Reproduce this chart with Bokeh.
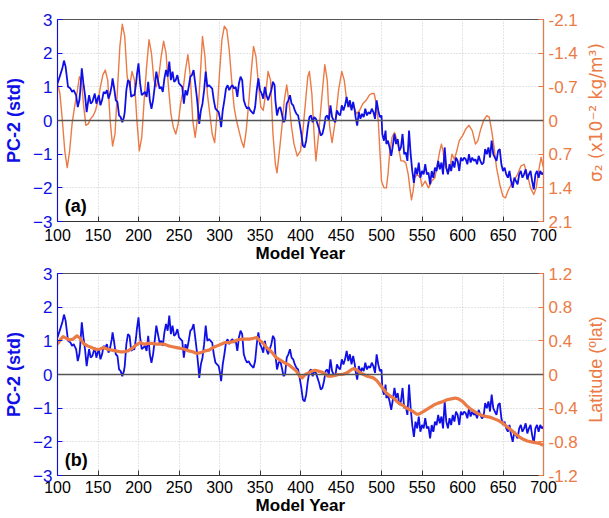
import math
from bokeh.plotting import figure
from bokeh.models import Range1d, LinearAxis, FixedTicker, Span, Label
from bokeh.layouts import column, row
from bokeh.core.properties import value
from bokeh.embed import file_html
from bokeh.resources import INLINE

# ---------------- data ----------------
pc2_years = [100,102,104,106,108,110,111,113,116,118,120,122,123,125,127,128,130,132,134,136,138,139,141,143,146,148,149,151,153,155,157,159,161,163,165,167,168,170,172,174,176,178,180,182,183,185,187,189,191,193,195,197,198,200,202,204,206,208,210,212,214,216,218,220,222,224,226,228,230,232,234,236,238,240,242,244,246,248,250,252,254,256,258,260,262,264,266,268,270,272,274,275,277,279,281,283,285,287,289,291,293,295,297,299,301,302,304,306,308,310,312,314,316,318,320,322,324,326,328,330,332,334,336,338,340,342,344,346,348,350,352,354,356,358,360,362,364,366,368,369,371,373,375,377,379,381,383,385,387,389,391,393,395,397,399,401,403,405,407,409,411,413,415,417,419,421,423,425,427,429,431,433,435,437,439,441,443,445,447,449,451,453,455,457,459,461,463,465,467,468,470,472,474,476,478,480,482,484,486,488,490,492,494,496,498,500,501,503,505,506,508,510,512,514,516,518,520,522,524,526,528,530,532,534,536,538,540,542,544,546,548,550,552,554,556,558,560,562,564,566,568,570,572,574,576,578,580,582,584,586,588,590,592,594,596,598,600,602,604,606,608,610,612,614,616,618,620,622,624,626,628,630,632,634,636,638,640,642,644,646,648,650,652,654,656,658,660,662,664,666,668,670,672,674,676,678,680,682,684,686,688,690,692,694,696,698,700]
pc2 = [1.1,1.25,1.4,1.55,1.78,1.6,1.4,1.0,0.95,0.85,0.9,0.8,0.75,0.4,0.6,0.85,1.55,1.1,0.75,0.25,0.6,0.75,0.5,0.55,0.8,0.5,0.6,0.75,0.45,0.6,0.85,0.8,0.9,0.65,0.8,1.05,1.25,0.95,0.6,0.55,0.15,0.1,-0.05,0.1,0.25,0.9,1.2,1.15,0.7,0.75,0.75,1.1,1.35,1.7,1.1,0.75,0.8,0.85,0.7,1.15,0.6,0.35,0.6,1.0,1.45,1.2,0.95,1.0,0.85,1.25,1.5,1.3,1.75,1.2,1.45,1.15,1.2,1.35,1.1,1.05,1.0,0.5,0.9,0.75,1.0,1.3,1.35,1.5,1.1,0.7,0.2,-0.1,0.3,0.5,0.9,1.45,1.0,1.05,1.0,0.95,0.6,0.35,0.3,0.25,0.0,-0.2,0.3,0.6,0.95,1.05,0.9,1.0,1.05,0.95,1.0,0.7,1.1,1.3,1.2,0.6,0.45,0.35,0.4,0.3,0.25,0.2,0.4,0.9,1.25,0.9,0.8,0.65,1.0,0.75,0.6,0.75,0.9,1.15,1.05,0.6,0.15,0.35,0.4,0.2,-0.05,0.0,0.5,0.6,0.75,0.5,0.45,0.3,0.2,0.15,-0.1,-0.4,-0.75,-0.8,-0.6,-0.2,0.1,0.15,-0.05,0.1,0.05,-0.1,-0.25,-0.45,-0.4,-0.2,0.1,0.15,0.0,0.45,0.1,0.0,-0.05,0.3,0.2,0.15,0.45,0.3,0.45,0.7,0.4,0.6,0.3,0.55,0.3,0.1,-0.15,0.25,0.05,0.2,0.1,0.35,0.15,0.25,0.2,0.35,0.25,0.05,0.6,0.3,0.1,0.15,-0.4,-0.6,-0.3,-0.7,-0.6,-0.8,-1.05,-0.75,-0.4,-0.7,-0.55,-0.9,-0.8,-0.4,-1.0,-0.95,-1.2,-0.3,-1.0,-1.5,-1.85,-1.4,-1.6,-1.25,-1.7,-1.5,-1.6,-1.3,-1.6,-1.55,-1.9,-1.5,-1.7,-1.4,-1.5,-1.2,-1.45,-1.25,-1.6,-0.8,-1.4,-1.6,-1.3,-1.5,-1.2,-1.4,-1.1,-1.2,-1.5,-1.1,-1.2,-1.1,-1.15,-1.3,-1.0,-1.25,-1.1,-1.2,-1.15,-1.3,-1.05,-1.2,-1.3,-1.25,-0.85,-1.0,-0.8,-1.1,-0.6,-1.0,-1.1,-1.2,-0.9,-0.85,-1.3,-1.5,-1.4,-1.6,-1.7,-1.5,-1.8,-2.0,-1.7,-1.8,-1.9,-1.6,-1.5,-1.7,-1.6,-1.45,-1.75,-1.6,-1.5,-1.8,-2.05,-1.6,-1.5,-1.7,-1.5,-1.6,-1.55]

sigma_years = [100,103,106,109,112,115,118,121,124,127,130,132,135,138,141,144,147,150,153,156,159,162,165,168,171,174,177,180,183,186,189,192,195,198,201,204,207,210,213,216,219,222,225,228,231,234,237,240,243,246,249,252,255,258,261,264,267,270,273,276,279,282,285,288,291,294,297,300,303,306,309,312,315,318,321,324,327,330,333,336,339,342,345,348,351,354,357,360,363,366,369,371,374,377,380,383,386,389,392,396,400,403,406,409,411,414,417,419,422,426,430,433,436,439,443,447,451,454,457,461,465,469,473,477,481,485,488,491,493,496,498,500,503,506,508,510,513,516,518,521,524,527,530,533,535,537,539,541,544,548,550,554,558,562,566,569,572,574,576,578,581,584,587,590,593,596,600,604,608,612,616,619,622,626,630,633,636,639,642,646,650,653,656,660,664,668,672,676,680,684,688,691,694,697,700]
sigma2 = [-0.77,-0.56,0.0,0.63,0.98,0.63,0.07,-0.28,-0.56,-0.91,-0.77,-0.35,0.1,0.07,-0.04,-0.1,-0.21,-0.42,-0.7,-0.95,-1.05,-0.84,0.0,0.53,0.28,-0.63,-1.54,-2.0,-1.75,-0.91,-0.7,-1.02,-0.84,0.0,0.63,0.35,-0.42,-1.12,-1.68,-1.4,-0.84,-0.7,-0.91,-1.33,-1.65,-1.4,-0.7,-0.14,0.14,0.28,0.07,-0.35,-0.63,-1.05,-1.37,-0.91,0.0,0.35,-0.07,-0.84,-1.75,-1.33,-0.56,-0.14,0.28,0.46,-0.14,-0.98,-1.68,-1.96,-1.89,-1.47,-0.84,-0.28,0.0,0.21,0.42,0.56,0.21,-0.35,-0.98,-1.54,-1.33,-0.77,-0.28,-0.21,-0.56,-1.02,-0.84,0.28,0.91,1.09,0.63,0.14,-0.42,-0.74,-0.35,0.14,0.49,0.74,0.63,0.21,-0.35,-0.91,-1.02,-0.56,0.35,0.84,0.35,-0.42,-1.16,-0.84,0.14,0.46,0.0,-0.63,-1.02,-0.84,-0.42,-0.28,-0.32,-0.14,-0.21,-0.35,-0.42,-0.53,-0.56,-0.56,-0.39,0.0,0.63,1.26,1.4,1.4,1.12,0.7,0.35,0.25,0.35,0.56,0.84,0.84,0.88,1.12,1.4,1.65,1.47,1.19,1.12,1.19,1.37,1.26,1.4,1.26,1.19,0.91,0.63,0.49,0.63,0.91,1.05,1.05,0.7,0.81,0.63,0.42,0.32,0.18,0.1,0.21,0.49,0.42,0.21,0.0,-0.1,-0.07,0.21,0.56,0.98,1.33,1.58,1.61,1.47,1.33,1.23,1.12,0.95,0.91,1.12,1.4,1.54,1.4,1.05,0.77,0.98]

lat_years = [100,104,107,111,115,119,124,128,132,137,142,147,152,157,162,167,172,177,182,187,192,197,202,207,212,217,222,227,232,237,242,247,252,257,262,267,272,277,282,287,292,297,302,307,312,317,322,327,332,337,342,346,350,354,358,362,366,370,375,380,385,390,395,399,402,406,410,414,418,422,426,430,434,438,443,447,451,455,459,463,466,470,474,478,482,486,490,494,498,502,506,510,515,519,523,527,531,535,539,543,546,550,555,560,565,570,576,581,586,591,595,600,605,610,615,620,625,630,635,640,645,650,655,660,665,670,675,680,685,690,695,700]
latitude = [0.36,0.42,0.45,0.43,0.41,0.42,0.46,0.43,0.37,0.34,0.32,0.3,0.3,0.32,0.3,0.29,0.28,0.27,0.27,0.28,0.31,0.35,0.38,0.36,0.37,0.37,0.36,0.36,0.36,0.34,0.33,0.32,0.31,0.3,0.28,0.27,0.25,0.26,0.28,0.29,0.32,0.34,0.36,0.38,0.38,0.39,0.41,0.42,0.42,0.42,0.43,0.44,0.4,0.37,0.32,0.29,0.25,0.2,0.17,0.14,0.12,0.08,0.04,-0.02,-0.04,0.0,0.02,0.04,0.05,0.04,0.03,0.01,-0.02,-0.02,-0.01,0.0,0.0,0.01,0.03,0.06,0.07,0.05,0.02,0.0,-0.02,-0.03,-0.04,-0.07,-0.12,-0.17,-0.22,-0.25,-0.28,-0.32,-0.35,-0.37,-0.4,-0.42,-0.44,-0.47,-0.47,-0.45,-0.42,-0.39,-0.36,-0.34,-0.32,-0.3,-0.29,-0.28,-0.29,-0.32,-0.37,-0.41,-0.44,-0.47,-0.49,-0.5,-0.51,-0.53,-0.55,-0.58,-0.62,-0.66,-0.7,-0.74,-0.77,-0.79,-0.8,-0.81,-0.82,-0.84]

x_ticks = [100,150,200,250,300,350,400,450,500,550,600,650,700]
pc_ticks = [-3,-2,-1,0,1,2,3]
sigma_ticks = [-2.1,-1.4,-0.7,0,0.7,1.4,2.1]
sigma_tick_labels = ["-2.1","-1.4","-0.7","0","0.7","1.4","2.1"]
lat_ticks = [-1.2,-0.8,-0.4,0,0.4,0.8,1.2]
lat_tick_labels = ["-1.2","-0.8","-0.4","0","0.4","0.8","1.2"]

BLUE = "#1010e6"
ORANGE = "#ec7a45"
FONT = "Liberation Sans"
MAIN_W = 582
SIDE_W = 609 - MAIN_W


def panel(height, top, bottom, x_standoff, tag, r_start, r_end, r_ticks, r_labels,
          r_years, r_vals, r_width, orange_on_top):
    p = figure(width=MAIN_W, height=height, x_range=Range1d(100, 700),
               y_range=Range1d(-3, 3), output_backend="svg", toolbar_location=None,
               min_border_left=57, min_border_right=MAIN_W - 543,
               min_border_top=top, min_border_bottom=bottom)
    p.extra_y_ranges = {"r": Range1d(start=r_start, end=r_end)}
    p.background_fill_color = "white"
    p.border_fill_color = "white"
    p.outline_line_color = "#555555"
    p.outline_line_width = 1.2

    p.xgrid.ticker = FixedTicker(ticks=x_ticks)
    p.ygrid.ticker = FixedTicker(ticks=pc_ticks)
    for g in (p.xgrid, p.ygrid):
        g.grid_line_color = "#c8c8c8"
        g.grid_line_dash = "1 2"
        g.grid_line_width = 1

    xa = p.xaxis[0]
    xa.ticker = FixedTicker(ticks=x_ticks)
    xa.axis_label = "Model Year"
    xa.axis_label_text_font = FONT
    xa.axis_label_text_font_style = "bold"
    xa.axis_label_text_font_size = "17px"
    xa.axis_label_text_color = "black"
    xa.axis_label_standoff = 0
    xa.major_label_text_font = FONT
    xa.major_label_text_font_size = "16px"
    xa.major_label_text_color = "black"
    xa.major_label_standoff = x_standoff
    xa.major_tick_in = 5
    xa.major_tick_out = 0
    xa.minor_tick_line_color = None
    xa.axis_line_color = "#333333"
    xa.major_tick_line_color = "#333333"

    ya = p.yaxis[0]
    ya.ticker = FixedTicker(ticks=pc_ticks)
    ya.axis_label = "PC-2 (std)"
    ya.axis_label_text_font = FONT
    ya.axis_label_text_font_style = "bold"
    ya.axis_label_text_font_size = "18px"
    ya.axis_label_text_color = BLUE
    ya.axis_label_standoff = 6
    ya.major_label_text_font = FONT
    ya.major_label_text_font_size = "17px"
    ya.major_label_text_color = BLUE
    ya.major_label_standoff = 5
    ya.major_tick_in = 5
    ya.major_tick_out = 0
    ya.minor_tick_line_color = None
    ya.axis_line_color = BLUE
    ya.major_tick_line_color = BLUE

    ra = LinearAxis(y_range_name="r", ticker=FixedTicker(ticks=r_ticks),
                    major_label_overrides=dict(zip(r_ticks, r_labels)))
    ra.major_label_text_font = FONT
    ra.major_label_text_font_size = "17px"
    ra.major_label_text_color = ORANGE
    ra.major_label_standoff = 5
    ra.major_tick_in = 5
    ra.major_tick_out = 0
    ra.minor_tick_line_color = None
    ra.axis_line_color = ORANGE
    ra.major_tick_line_color = ORANGE
    p.add_layout(ra, "right")

    p.add_layout(Span(location=0, dimension="width", line_color="#555555",
                      line_width=1.5))

    if orange_on_top:
        p.line(pc2_years, pc2, line_color=BLUE, line_width=1.8)
        p.line(r_years, r_vals, y_range_name="r", line_color=ORANGE,
               line_width=r_width, line_join="round")
    else:
        p.line(r_years, r_vals, y_range_name="r", line_color=ORANGE,
               line_width=r_width, line_join="round")
        p.line(pc2_years, pc2, line_color=BLUE, line_width=1.8)

    p.add_layout(Label(x=109, y=-2.85, text=tag, text_font=FONT,
                       text_font_size="18px", text_font_style="bold",
                       text_color="black"))
    return p


def side_title(height, text, font, size, y_from_top):
    """Narrow strip holding the right-hand axis title, reading bottom to top."""
    s = figure(width=SIDE_W, height=height, x_range=Range1d(0, SIDE_W),
               y_range=Range1d(0, height), output_backend="svg",
               toolbar_location=None, x_axis_location=None, y_axis_location=None,
               min_border=0)
    s.outline_line_color = None
    s.grid.visible = False
    s.text(x=[SIDE_W / 2], y=[height - y_from_top], text=[text], angle=math.pi / 2,
           text_align="center", text_baseline="middle",
           text_font=value(font), text_font_size=size, text_color=ORANGE)
    return s


pa = panel(266, 19, 45, 7, "(a)", 2.1, -2.1, sigma_ticks, sigma_tick_labels,
           sigma_years, sigma2, 1.4, False)
pb = panel(252, 7, 43, 5, "(b)", -1.2, 1.2, lat_ticks, lat_tick_labels,
           lat_years, latitude, 3.2, True)
sa = side_title(266, "σ₂ (x10⁻² kg/m³)", "DejaVu Sans", "17px", 112)
sb = side_title(252, "Latitude (ºlat)", FONT, "18px", 103)

layout = row(column(pa, pb, spacing=0), column(sa, sb, spacing=0), spacing=0)
open("out.html", "w").write(file_html(layout, INLINE))
